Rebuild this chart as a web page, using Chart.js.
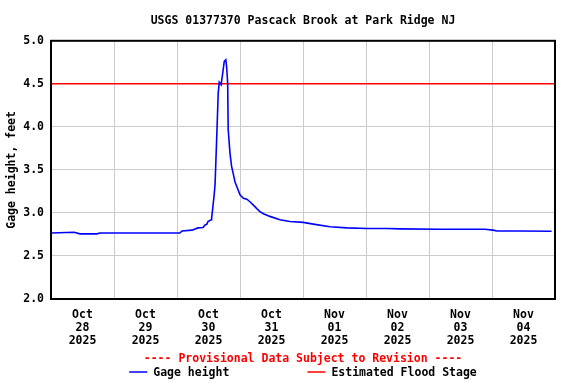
<!DOCTYPE html>
<html lang="en">
<head>
  <meta charset="UTF-8" />
  <title>USGS 01377370 Pascack Brook at Park Ridge NJ</title>
  <script src="https://cdn.jsdelivr.net/npm/chart.js"></script>
  <style>
    body {
      margin: 0;
      background: #fff;
    }
    #wrap {
      width: 576px;
      height: 384px;
      position: relative;
    }
  </style>
</head>
<body>
  <div id="wrap">
    <canvas id="gage"></canvas>
  </div>

  <script>
    // hours since Oct 28 2025 00:00
    const hours = [0, 8.8, 11, 17.5, 18.7, 49.1, 49.9, 53.7, 56, 57.9, 58.7, 59.4, 59.8, 61.0, 61.2,
      61.6, 61.8, 62.1, 62.5, 63.1, 63.7, 64.1, 64.8, 65.4, 66.0, 66.6, 66.9, 67.3, 67.5, 68.2,
      68.8, 69.4, 70.1, 71.0, 72.0, 73.3, 74.6, 75.8, 77.1, 78.4, 79.6, 80.9, 83.4, 87.2, 91.0,
      96.1, 99.9, 106.3, 112.7, 120.3, 128, 133, 148.2, 165.3, 168.4, 169.9, 178.7, 190.7];
    const gageHeight = [2.767, 2.775, 2.757, 2.757, 2.767, 2.767, 2.79, 2.80, 2.826, 2.83, 2.86, 2.87, 2.90, 2.92, 2.94,
      3.05, 3.11, 3.19, 3.33, 3.85, 4.39, 4.52, 4.49, 4.62, 4.76, 4.78, 4.70, 4.51, 3.97, 3.69,
      3.54, 3.46, 3.36, 3.29, 3.21, 3.17, 3.16, 3.13, 3.09, 3.05, 3.015, 2.99, 2.96, 2.92, 2.90,
      2.89, 2.87, 2.84, 2.826, 2.82, 2.82, 2.815, 2.81, 2.81, 2.80, 2.79, 2.79, 2.787];
    const floodStage = 4.5;
    const floodHours = [0, 192];

    const tickMonths = ['Oct', 'Oct', 'Oct', 'Oct', 'Nov', 'Nov', 'Nov', 'Nov'];
    const tickDays = ['28', '29', '30', '31', '01', '02', '03', '04'];
    const tickYear = '2025';

    const FONT = "'DejaVu Sans Mono', monospace";
    const fontBold = { family: FONT, size: 11.5, weight: 'bold', lineHeight: 1.2 };

    // frame around the plot + bottom notes and legend
    const extras = {
      id: 'extras',
      afterDraw(chart) {
        const { ctx, chartArea: a } = chart;
        ctx.save();
        ctx.strokeStyle = '#000';
        ctx.lineWidth = 2;
        ctx.strokeRect(a.left, a.top, a.right - a.left, a.bottom - a.top);

        const cx = (a.left + a.right) / 2;
        ctx.font = "bold 11.5px " + FONT;
        ctx.textBaseline = 'middle';
        ctx.textAlign = 'center';
        ctx.fillStyle = '#ff0000';
        ctx.fillText('---- Provisional Data Subject to Revision ----', cx, 359);

        const items = chart.data.datasets.map(ds => ({ text: ds.label, color: ds.borderColor }));
        const lineW = 18, gapText = 6, gapItem = 78;
        const widths = items.map(it => lineW + gapText + ctx.measureText(it.text).width);
        const total = widths.reduce((s, w) => s + w, 0) + gapItem * (items.length - 1);
        let x = cx - total / 2;
        ctx.textAlign = 'left';
        items.forEach((it, i) => {
          ctx.strokeStyle = it.color;
          ctx.lineWidth = 1.5;
          ctx.beginPath();
          ctx.moveTo(x, 372);
          ctx.lineTo(x + lineW, 372);
          ctx.stroke();
          ctx.fillStyle = '#000';
          ctx.fillText(it.text, x + lineW + gapText, 373);
          x += widths[i] + gapItem;
        });
        ctx.restore();
      }
    };

    new Chart(document.getElementById('gage'), {
      type: 'line',
      data: {
        datasets: [
          {
            label: 'Gage height',
            data: hours.map((h, i) => ({ x: h, y: gageHeight[i] })),
            borderColor: '#0000ff',
            borderWidth: 1.6,
            pointRadius: 0,
            tension: 0
          },
          {
            label: 'Estimated Flood Stage',
            data: floodHours.map(h => ({ x: h, y: floodStage })),
            borderColor: '#ff0000',
            borderWidth: 1.5,
            pointRadius: 0
          }
        ]
      },
      options: {
        responsive: true,
        maintainAspectRatio: false,
        animation: false,
        layout: { padding: { left: 0, right: 21, top: 0, bottom: 36 } },
        plugins: {
          legend: { display: false },
          tooltip: { enabled: false },
          title: {
            display: true,
            text: 'USGS 01377370 Pascack Brook at Park Ridge NJ',
            color: '#000',
            font: fontBold,
            fullSize: false,
            padding: { top: 14, bottom: 13 }
          }
        },
        scales: {
          x: {
            type: 'linear',
            min: 0,
            max: 192,
            afterFit: s => { s.height = 49; },
            border: { display: false },
            grid: {
              drawTicks: false,
              color: c => (c.tick && c.tick.value % 24 === 0) ? '#cccccc' : 'rgba(0,0,0,0)'
            },
            ticks: {
              stepSize: 12,
              autoSkip: false,
              maxRotation: 0,
              padding: 10,
              color: '#000',
              font: { family: FONT, size: 11.5, weight: 'bold', lineHeight: 1.13 },
              callback: v => {
                if (v % 24 !== 12) return '';
                const d = Math.floor(v / 24);
                return [tickMonths[d], tickDays[d], tickYear];
              }
            }
          },
          y: {
            min: 2,
            max: 5,
            afterFit: s => { s.width = 51; },
            border: { display: false },
            grid: { drawTicks: false, color: '#cccccc' },
            ticks: {
              stepSize: 0.5,
              padding: 7,
              color: '#000',
              font: fontBold,
              callback: v => v.toFixed(1)
            },
            title: {
              display: true,
              text: 'Gage height, feet',
              color: '#000',
              font: fontBold,
              padding: { top: 5, bottom: 0 }
            }
          }
        }
      },
      plugins: [extras]
    });
  </script>
</body>
</html>
